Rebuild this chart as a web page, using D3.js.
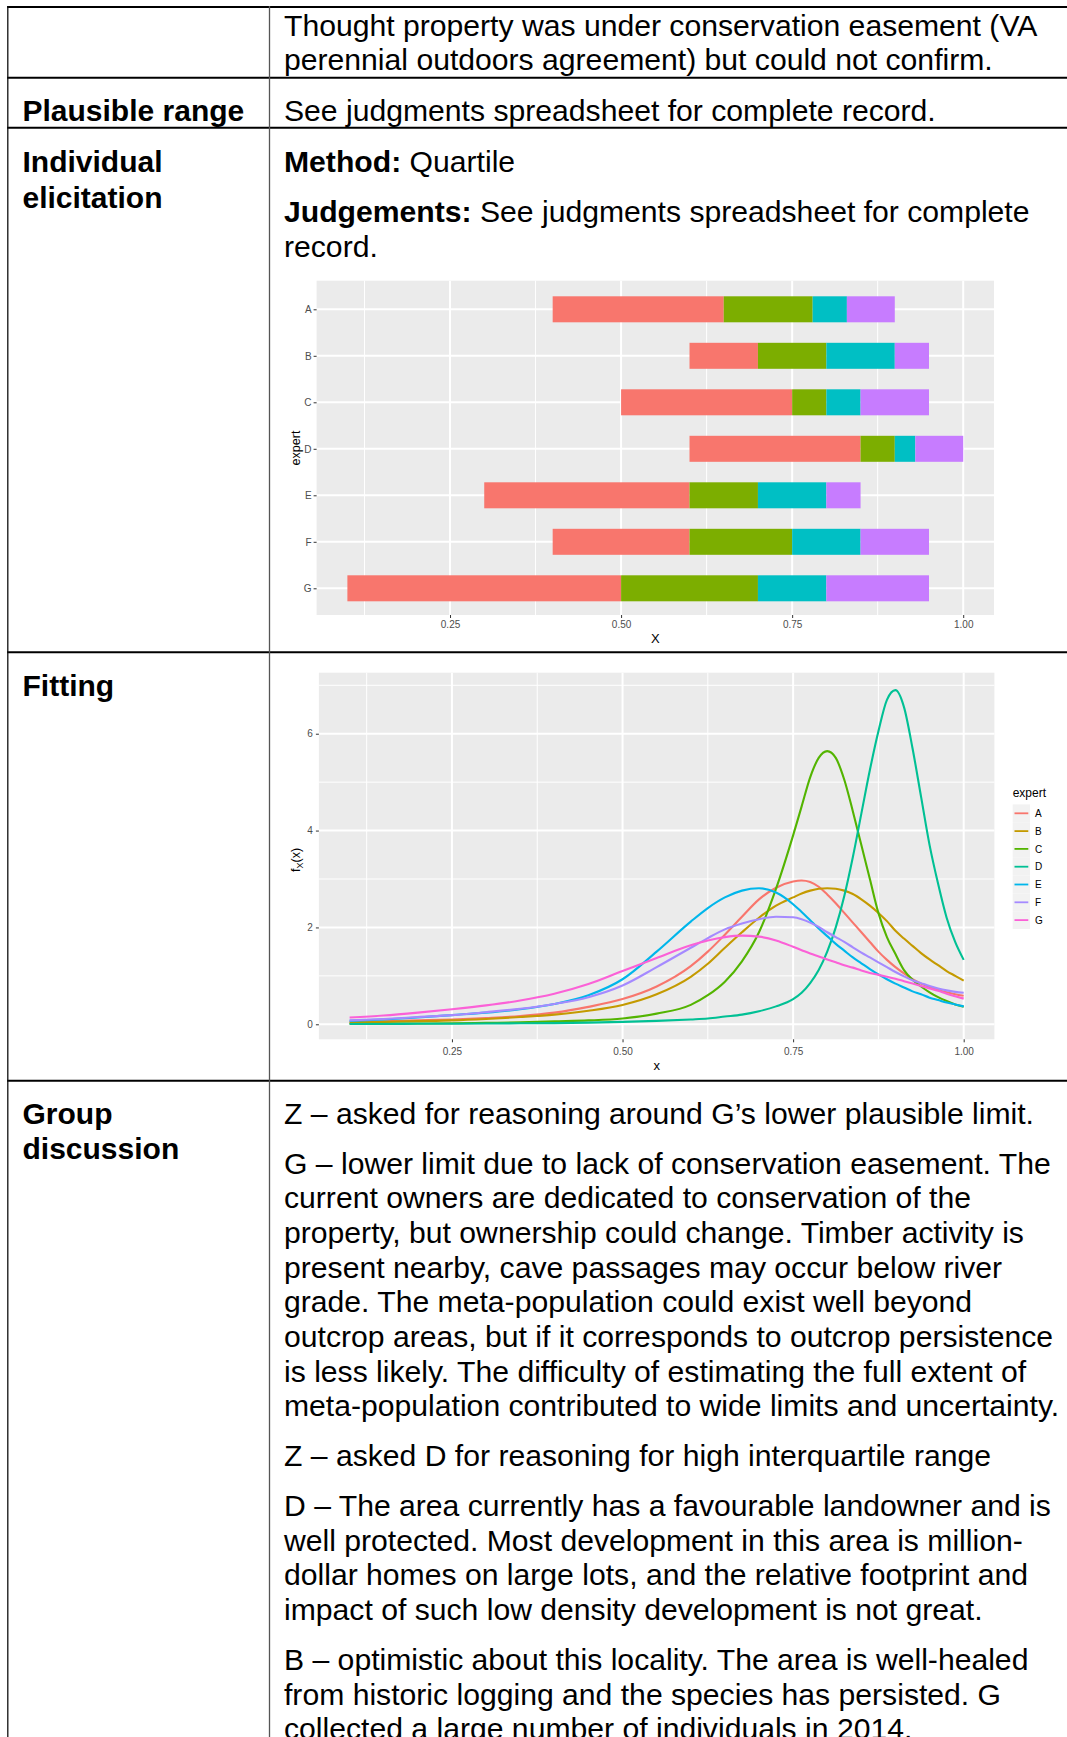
<!DOCTYPE html>
<html><head><meta charset="utf-8">
<script src="https://cdn.jsdelivr.net/npm/d3@7"></script>
<style>html,body{margin:0;padding:0;background:#fff;overflow:hidden;} svg{display:block;}</style>
</head><body><svg id="page" width="1067" height="1737"></svg>
<script>
// ---------- DATA ----------
const experts = ["A","B","C","D","E","F","G"];
const lowerLimit = [0.40,0.60,0.50,0.60,0.30,0.40,0.10];
const quartile1  = [0.65,0.70,0.75,0.85,0.60,0.60,0.50];
const medianVal  = [0.78,0.80,0.80,0.90,0.70,0.75,0.70];
const quartile3  = [0.83,0.90,0.85,0.93,0.80,0.85,0.80];
const upperLimit = [0.90,0.95,0.95,1.00,0.85,0.95,0.95];
const xTicks = [0.25,0.50,0.75,1.00];
const xMinorTicks = [0.125,0.375,0.625,0.875];
const densityTicks = [0,2,4,6];
const densityMinorTicks = [1,3,5,7];
const densityX = [0.10,0.15,0.20,0.25,0.30,0.35,0.40,0.45,0.50,0.55,0.60,0.625,0.65,0.675,0.70,0.725,0.75,0.7625,0.775,0.7875,0.80,0.8125,0.825,0.8375,0.85,0.8625,0.875,0.8875,0.90,0.9125,0.925,0.9375,0.95,0.9625,0.975,0.9875,1.00];
const densA = [0.04,0.06,0.08,0.10,0.13,0.17,0.24,0.36,0.52,0.78,1.20,1.50,1.85,2.22,2.58,2.82,2.95,2.97,2.94,2.84,2.68,2.50,2.30,2.10,1.90,1.70,1.50,1.33,1.18,1.05,0.93,0.84,0.77,0.71,0.66,0.62,0.59];
const densB = [0.035,0.05,0.065,0.08,0.11,0.15,0.20,0.28,0.40,0.62,0.98,1.25,1.58,1.90,2.20,2.45,2.62,2.70,2.76,2.80,2.81,2.80,2.76,2.69,2.58,2.45,2.30,2.13,1.93,1.77,1.62,1.47,1.34,1.22,1.10,1.00,0.90];
const densC = [0.01,0.012,0.015,0.02,0.03,0.04,0.06,0.08,0.12,0.22,0.40,0.60,0.88,1.30,1.90,2.80,3.90,4.50,5.10,5.50,5.64,5.50,5.05,4.40,3.70,3.00,2.30,1.80,1.45,1.12,0.92,0.78,0.66,0.56,0.48,0.41,0.36];
const densD = [0.005,0.007,0.01,0.012,0.015,0.02,0.025,0.035,0.05,0.07,0.10,0.12,0.16,0.20,0.27,0.37,0.52,0.65,0.85,1.12,1.50,2.00,2.65,3.45,4.35,5.25,6.05,6.70,6.90,6.55,5.70,4.70,3.70,2.90,2.20,1.70,1.33];
const densE = [0.07,0.10,0.14,0.19,0.24,0.31,0.42,0.60,0.93,1.50,2.12,2.40,2.62,2.76,2.81,2.72,2.48,2.32,2.15,1.98,1.82,1.66,1.52,1.38,1.26,1.14,1.03,0.93,0.84,0.76,0.68,0.62,0.55,0.50,0.45,0.41,0.37];
const densF = [0.08,0.11,0.15,0.19,0.25,0.32,0.42,0.56,0.80,1.18,1.58,1.78,1.96,2.08,2.17,2.22,2.21,2.17,2.10,2.01,1.90,1.80,1.70,1.59,1.48,1.38,1.28,1.18,1.08,0.99,0.91,0.85,0.79,0.74,0.70,0.67,0.65];
const densG = [0.14,0.18,0.24,0.31,0.39,0.49,0.63,0.83,1.10,1.37,1.63,1.73,1.80,1.83,1.81,1.73,1.60,1.53,1.46,1.40,1.34,1.28,1.22,1.17,1.11,1.06,1.02,0.98,0.94,0.89,0.84,0.79,0.74,0.69,0.63,0.58,0.53];
const densities = [densA,densB,densC,densD,densE,densF,densG];
const segmentColors = ["#F8766D","#7CAE00","#00BFC4","#C77CFF"];
const expertColors = ["#F8766D","#C49A00","#53B400","#00C094","#00B6EB","#A58AFF","#FB61D7"];

// ---------- PAGE ----------
const svg = d3.select("#page");
const FONT = "'Liberation Sans', Arial, sans-serif";
const BODY = 30.15;
svg.append("rect").attr("width",1067).attr("height",1737).attr("fill","#fff");

function addText(x, y, parts, size) {
  const t = svg.append("text").attr("x", x).attr("y", y)
    .attr("font-family", FONT).attr("font-size", size || BODY).attr("fill", "#000");
  parts.forEach(p => t.append("tspan").attr("font-weight", p.b ? "bold" : "normal").text(p.t));
}

// table rules
[7, 77.7, 127.7, 652.3, 1080.7].forEach(y => svg.append("line")
  .attr("x1", 7).attr("x2", 1067).attr("y1", y).attr("y2", y)
  .attr("stroke", "#000").attr("stroke-width", 2));
svg.append("line").attr("x1", 7.8).attr("x2", 7.8).attr("y1", 6).attr("y2", 1737)
  .attr("stroke", "#111").attr("stroke-width", 1.3);
svg.append("line").attr("x1", 269.5).attr("x2", 269.5).attr("y1", 6).attr("y2", 1737)
  .attr("stroke", "#555").attr("stroke-width", 1.3);

// texts
const LX = 22.5, RX = 284;
addText(RX, 35.5, [{t:"Thought property was under conservation easement (VA"}]);
addText(RX, 70, [{t:"perennial outdoors agreement) but could not confirm."}]);
addText(LX, 121, [{t:"Plausible range", b:true}], 30);
addText(RX, 121, [{t:"See judgments spreadsheet for complete record."}]);
addText(LX, 172, [{t:"Individual", b:true}], 30);
addText(LX, 207.5, [{t:"elicitation", b:true}], 30);
addText(RX, 172, [{t:"Method:", b:true},{t:" Quartile"}]);
addText(RX, 221.5, [{t:"Judgements:", b:true},{t:" See judgments spreadsheet for complete"}]);
addText(RX, 256.5, [{t:"record."}]);
addText(LX, 696, [{t:"Fitting", b:true}], 30);
addText(LX, 1123.7, [{t:"Group", b:true}], 30);
addText(LX, 1158.7, [{t:"discussion", b:true}], 30);

const paragraphs = [
  ["Z – asked for reasoning around G’s lower plausible limit."],
  ["G – lower limit due to lack of conservation easement. The",
   "current owners are dedicated to conservation of the",
   "property, but ownership could change. Timber activity is",
   "present nearby, cave passages may occur below river",
   "grade. The meta-population could exist well beyond",
   "outcrop areas, but if it corresponds to outcrop persistence",
   "is less likely. The difficulty of estimating the full extent of",
   "meta-population contributed to wide limits and uncertainty."],
  ["Z – asked D for reasoning for high interquartile range"],
  ["D – The area currently has a favourable landowner and is",
   "well protected. Most development in this area is million-",
   "dollar homes on large lots, and the relative footprint and",
   "impact of such low density development is not great."],
  ["B – optimistic about this locality. The area is well-healed",
   "from historic logging and the species has persisted. G",
   "collected a large number of individuals in 2014."]
];
let by = 1123.7;
paragraphs.forEach((para, pi) => {
  if (pi > 0) by += 49.8;
  para.forEach((line, li) => {
    if (li > 0) by += 34.7;
    addText(RX, by, [{t: line}]);
  });
});

// ---------- helpers for ggplot-like axes ----------
function styleAxis(g, size) {
  g.select(".domain").remove();
  g.selectAll(".tick line").attr("stroke", "#333").attr("stroke-width", 1);
  g.selectAll(".tick text").attr("fill", "#4D4D4D").attr("font-family", FONT).attr("font-size", size);
}

// ---------- CHART 1: quartile bars ----------
{
  const L = 316.6, R = 994, T = 280.7, B = 615;
  const x = d3.scaleLinear().domain([0.055, 1.045]).range([L, R]);
  const y = d3.scalePoint().domain(experts).range([309.3, 588.3]);
  const g = svg.append("g");
  g.append("rect").attr("x", L).attr("y", T).attr("width", R - L).attr("height", B - T).attr("fill", "#EBEBEB");
  xMinorTicks.forEach(v => g.append("line").attr("x1", x(v)).attr("x2", x(v)).attr("y1", T).attr("y2", B)
    .attr("stroke", "#fff").attr("stroke-width", 1));
  xTicks.forEach(v => g.append("line").attr("x1", x(v)).attr("x2", x(v)).attr("y1", T).attr("y2", B)
    .attr("stroke", "#fff").attr("stroke-width", 2));
  experts.forEach(e => g.append("line").attr("x1", L).attr("x2", R).attr("y1", y(e)).attr("y2", y(e))
    .attr("stroke", "#fff").attr("stroke-width", 2));
  const bh = 26;
  experts.forEach((e, i) => {
    const cuts = [lowerLimit[i], quartile1[i], medianVal[i], quartile3[i], upperLimit[i]];
    for (let k = 0; k < 4; k++) {
      g.append("rect").attr("x", x(cuts[k])).attr("y", y(e) - bh / 2)
        .attr("width", x(cuts[k + 1]) - x(cuts[k])).attr("height", bh)
        .attr("fill", segmentColors[k]);
    }
  });
  const ax = g.append("g").attr("transform", `translate(0,${B})`)
    .call(d3.axisBottom(x).tickValues(xTicks).tickFormat(d3.format(".2f")).tickSize(3).tickPadding(3));
  styleAxis(ax, 10);
  const ay = g.append("g").attr("transform", `translate(${L},0)`)
    .call(d3.axisLeft(y).tickSize(3).tickPadding(2));
  styleAxis(ay, 10);
  g.append("text").attr("x", (L + R) / 2).attr("y", 643).attr("text-anchor", "middle")
    .attr("font-family", FONT).attr("font-size", 13).attr("fill", "#000").text("X");
  g.append("text").attr("transform", `translate(300,448) rotate(-90)`).attr("text-anchor", "middle")
    .attr("font-family", FONT).attr("font-size", 12.5).attr("fill", "#000").text("expert");
}

// ---------- CHART 2: fitted densities ----------
{
  const L = 318.9, R = 994.4, T = 672.7, B = 1039.3;
  const x = d3.scaleLinear().domain([0.055, 1.045]).range([L, R]);
  const y = d3.scaleLinear().domain([-0.31, 7.26]).range([B, T]);
  const g = svg.append("g");
  g.append("rect").attr("x", L).attr("y", T).attr("width", R - L).attr("height", B - T).attr("fill", "#EBEBEB");
  xMinorTicks.forEach(v => g.append("line").attr("x1", x(v)).attr("x2", x(v)).attr("y1", T).attr("y2", B)
    .attr("stroke", "#fff").attr("stroke-width", 1));
  densityMinorTicks.forEach(v => g.append("line").attr("x1", L).attr("x2", R).attr("y1", y(v)).attr("y2", y(v))
    .attr("stroke", "#fff").attr("stroke-width", 1));
  xTicks.forEach(v => g.append("line").attr("x1", x(v)).attr("x2", x(v)).attr("y1", T).attr("y2", B)
    .attr("stroke", "#fff").attr("stroke-width", 2));
  densityTicks.forEach(v => g.append("line").attr("x1", L).attr("x2", R).attr("y1", y(v)).attr("y2", y(v))
    .attr("stroke", "#fff").attr("stroke-width", 2));
  const line = d3.line().x((d, i) => x(densityX[i])).y(d => y(d)).curve(d3.curveMonotoneX);
  densities.forEach((arr, i) => g.append("path").attr("d", line(arr)).attr("fill", "none")
    .attr("stroke", expertColors[i]).attr("stroke-width", 2.1));
  const ax = g.append("g").attr("transform", `translate(0,${B})`)
    .call(d3.axisBottom(x).tickValues(xTicks).tickFormat(d3.format(".2f")).tickSize(3).tickPadding(6));
  styleAxis(ax, 10);
  const ay = g.append("g").attr("transform", `translate(${L},0)`)
    .call(d3.axisLeft(y).tickValues(densityTicks).tickSize(3).tickPadding(3));
  styleAxis(ay, 10);
  g.append("text").attr("x", (L + R) / 2).attr("y", 1070).attr("text-anchor", "middle")
    .attr("font-family", FONT).attr("font-size", 13).attr("fill", "#000").text("x");
  const yl = g.append("text").attr("transform", `translate(300,860) rotate(-90)`).attr("text-anchor", "middle")
    .attr("font-family", FONT).attr("font-size", 12.5).attr("fill", "#000");
  yl.append("tspan").text("f");
  yl.append("tspan").attr("font-size", 9).attr("dy", 3).text("X");
  yl.append("tspan").attr("dy", -3).text("(x)");
  // legend
  const lg = g.append("g");
  lg.append("text").attr("x", 1012.7).attr("y", 797).attr("font-family", FONT).attr("font-size", 12)
    .attr("fill", "#000").text("expert");
  experts.forEach((e, i) => {
    const cy = 813.3 + i * 17.8;
    lg.append("rect").attr("x", 1012.7).attr("y", cy - 8.9).attr("width", 17.3).attr("height", 17.8).attr("fill", "#F2F2F2");
    lg.append("line").attr("x1", 1014.5).attr("x2", 1028.3).attr("y1", cy).attr("y2", cy)
      .attr("stroke", expertColors[i]).attr("stroke-width", 1.8);
    lg.append("text").attr("x", 1035).attr("y", cy + 3.6).attr("font-family", FONT).attr("font-size", 10)
      .attr("fill", "#000").text(e);
  });
}
</script></body></html>
